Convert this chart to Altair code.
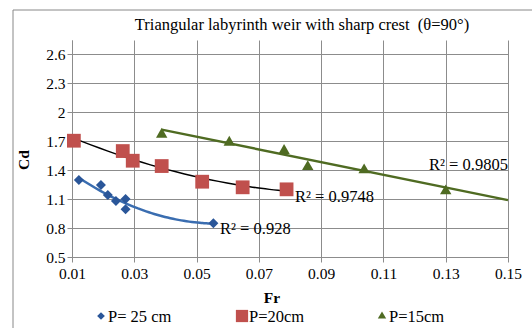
import altair as alt
import pandas as pd

# Data
fr_25 = [0.0122, 0.0193, 0.0215, 0.0241, 0.0272, 0.0272, 0.0554]
cd_25 = [1.296, 1.245, 1.141, 1.079, 1.100, 0.993, 0.848]

fr_20 = [0.0106, 0.0263, 0.0295, 0.0388, 0.0518, 0.0648, 0.0789]
cd_20 = [1.703, 1.596, 1.496, 1.441, 1.279, 1.221, 1.200]

fr_15 = [0.0388, 0.0605, 0.0781, 0.0857, 0.1038, 0.1300]
cd_15 = [1.785, 1.703, 1.617, 1.451, 1.417, 1.200]

series_names = ["P= 25 cm", "P=20cm", "P=15cm"]
r2_labels = ["R² = 0.928", "R² = 0.9748", "R² = 0.9805"]
x_ticks = [0.01, 0.03, 0.05, 0.07, 0.09, 0.11, 0.13, 0.15]
y_ticks = [0.5, 0.8, 1.1, 1.4, 1.7, 2.0, 2.3, 2.6]
title_text = "Triangular labyrinth weir with sharp crest \u00a0(θ=90°)"

rows = []
for name, xs, ys in [(series_names[0], fr_25, cd_25), (series_names[1], fr_20, cd_20), (series_names[2], fr_15, cd_15)]:
    for a, b in zip(xs, ys):
        rows.append({"Fr": a, "Cd": b, "series": name})
df = pd.DataFrame(rows)

FONT = "Liberation Serif"
W, H = 436, 217
GRID = "#8c8c8c"

xs = alt.X("Fr:Q", scale=alt.Scale(domain=[0.01, 0.15], nice=False, zero=False),
           axis=alt.Axis(values=x_ticks, format=".2f", title=None, grid=True, labelFlush=False,
                         gridColor=GRID, domainColor=GRID, tickColor=GRID, tickSize=5,
                         labelFont=FONT, labelFontSize=15.5, labelColor="#000", labelPadding=4))
ys = alt.Y("Cd:Q", scale=alt.Scale(domain=[0.5, 2.745], nice=False, zero=False),
           axis=alt.Axis(values=y_ticks, format=".1~f", title=None, grid=True, labelFlush=False,
                         gridColor=GRID, domainColor=GRID, tickColor=GRID, tickSize=5,
                         labelFont=FONT, labelFontSize=15.5, labelColor="#000", labelPadding=2))

base = alt.Chart(df)

blue = "#2A5699"
red = "#C0504D"
green = "#4F6B22"

trend_25 = base.transform_filter(alt.datum.series == series_names[0]).transform_regression(
    "Fr", "Cd", method="poly", order=2).mark_line(color="#3A6DB0", strokeWidth=2.5).encode(x=xs, y=ys)
trend_20 = base.transform_filter(alt.datum.series == series_names[1]).transform_regression(
    "Fr", "Cd", method="poly", order=2).mark_line(color="#000000", strokeWidth=1.5).encode(x=xs, y=ys)
trend_15 = base.transform_filter(alt.datum.series == series_names[2]).transform_regression(
    "Fr", "Cd", method="linear", extent=[0.0388, 0.15]).mark_line(color=green, strokeWidth=2.5).encode(x=xs, y=ys)

pts_25 = base.transform_filter(alt.datum.series == series_names[0]).mark_point(
    shape="diamond", filled=True, size=100, color=blue, opacity=1).encode(x=xs, y=ys)
pts_20 = base.transform_filter(alt.datum.series == series_names[1]).mark_point(
    shape="square", filled=True, size=190, color=red, opacity=1).encode(x=xs, y=ys)
pts_15 = base.transform_filter(alt.datum.series == series_names[2]).mark_point(
    shape="triangle-up", filled=True, size=130, color=green, opacity=1).encode(x=xs, y=ys)

def txt(s, x, y, size=16.5, align="left", weight="normal", angle=0):
    kw = dict(align=align, baseline="middle", font=FONT, fontSize=size, fontWeight=weight, color="#000")
    if angle:
        kw["angle"] = angle
    return alt.Chart(pd.DataFrame({"t": [s]})).mark_text(**kw).encode(
        text="t:N", x=alt.value(x), y=alt.value(y))

OX, OY = 72, 40
labels = [
    txt(r2_labels[0], 220 - OX, 229 - OY),
    txt(r2_labels[1], 295 - OX, 197 - OY),
    txt(r2_labels[2], 429 - OX, 165 - OY),
    txt(title_text, 302 - OX, 25 - OY, size=16.5, align="center"),
    txt("Fr", 272 - OX, 298 - OY, size=15.5, align="center", weight="bold"),
    txt("Cd", 24 - OX, 160 - OY, size=15.5, align="center", weight="bold", angle=270),
    txt(series_names[0], 108 - OX, 317 - OY),
    txt(series_names[1], 249 - OX, 317 - OY),
    txt(series_names[2], 389 - OX, 317 - OY),
]

def sym(shape, color, size, x, y):
    return alt.Chart(pd.DataFrame({"a": [0]})).mark_point(
        shape=shape, filled=True, size=size, color=color, opacity=1).encode(x=alt.value(x), y=alt.value(y))

legend_syms = [
    sym("diamond", blue, 60, 101 - OX, 316 - OY),
    sym("square", red, 150, 242 - OX, 316 - OY),
    sym("triangle-up", green, 70, 382 - OX, 315 - OY),
]

border_left = alt.Chart(pd.DataFrame({"a": [0]})).mark_rule(color="#888888", strokeWidth=1).encode(
    x=alt.value(13 - OX), y=alt.value(10 - OY), y2=alt.value(340 - OY))
border_top = alt.Chart(pd.DataFrame({"a": [0]})).mark_rule(color="#888888", strokeWidth=1).encode(
    y=alt.value(10 - OY), x=alt.value(13 - OX), x2=alt.value(540 - OX))

chart = alt.layer(
    trend_25, trend_20, trend_15, pts_25, pts_20, pts_15,
    *labels, *legend_syms, border_left, border_top
).properties(
    width=W, height=H,
    autosize=alt.AutoSizeParams(type="none"),
    padding={"left": OX, "top": OY, "right": 532 - OX - W, "bottom": 328 - OY - H},
    background="white",
).configure_view(stroke=None)

chart.save("out.html", embed_options={"renderer": "svg", "actions": False})
